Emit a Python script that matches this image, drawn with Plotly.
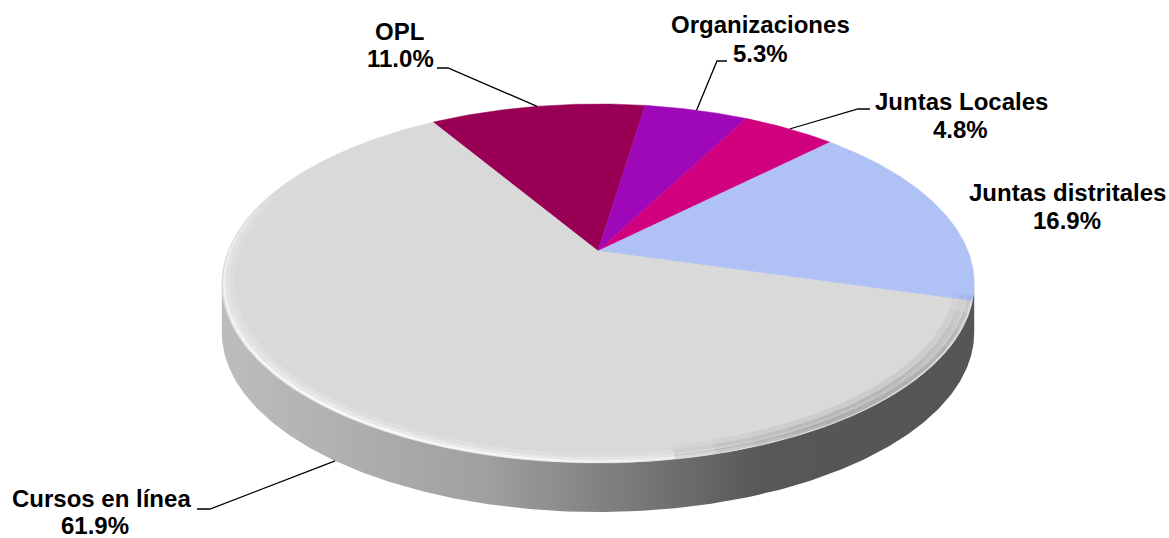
import numpy as np
import plotly.graph_objects as go

# ---- data ----
categories = ["OPL", "Organizaciones", "Juntas Locales", "Juntas distritales", "Cursos en línea"]
values = [11.0, 5.3, 4.8, 16.9, 61.9]
pct_labels = ["11.0%", "5.3%", "4.8%", "16.9%", "61.9%"]
colors = ["#990055", "#9E08B8", "#D0007E", "#B0C1F5", "#D9D9D9"]

# ---- geometry / style (3D perspective pie) ----
W, H = 1169, 538
CX, CY = 598.0, 251.0      # projected pie centre
A = 370.0                  # horizontal radius
G = 0.181                  # perspective factor
DV = -128.2                # vertical scale
DEPTH = 49.0               # thickness of the pie
START = 121.0              # first slice starting angle (deg), clockwise


def proj(theta_deg, r=1.0, drop=0.0):
    t = np.radians(theta_deg)
    u = r * np.cos(t)
    v = r * np.sin(t)
    w = 1 + G * v
    return CX + A * u / w, (DV * v + CY) / w + drop


total = sum(values)
spans = [v / total * 360.0 for v in values]
starts, ends = [], []
a = START
for s in spans:
    starts.append(a)
    ends.append(a - s)
    a -= s

fig = go.Figure()

# side wall (near half)
tl = np.degrees(np.arcsin(G))
ang = np.linspace(180 + tl, 360 - tl, 300)
xt, yt = proj(ang)
xb, yb = proj(ang[::-1], drop=DEPTH)
fig.add_trace(go.Scatter(
    x=np.concatenate([xt, xb]), y=np.concatenate([yt, yb]),
    mode="lines", fill="toself", line=dict(width=0),
    fillgradient=dict(type="horizontal",
                      colorscale=[[0, "#bdbdbd"], [0.35, "#a0a0a0"], [0.72, "#575757"], [1, "#555555"]]),
    hoverinfo="skip", showlegend=False))

# top face slices
for cat, s0, s1, col in zip(categories, starts, ends, colors):
    th = np.linspace(s0, s1, max(10, int(abs(s0 - s1) * 2)))
    xs, ys = proj(th)
    fig.add_trace(go.Scatter(
        x=np.concatenate([[CX], xs, [CX]]), y=np.concatenate([[CY], ys, [CY]]),
        mode="lines", fill="toself", fillcolor=col, line=dict(width=0.5, color=col),
        name=cat, hoverinfo="name", showlegend=False))


def rim_band(a_from, a_to, nseg, layers, rgb, power):
    edges = np.linspace(a_from, a_to, nseg + 1)
    for i in range(nseg):
        a0, a1 = edges[i], edges[i + 1]
        wgt = np.sin(np.pi * (0.5 * (a0 + a1) - a_from) / (a_to - a_from)) ** power
        th = np.linspace(a0, a1, 6)
        for r, wd, op in layers:
            hx, hy = proj(th, r=r)
            fig.add_trace(go.Scatter(x=hx, y=hy, mode="lines",
                                     line=dict(color="rgba(%s,%.3f)" % (rgb, op * wgt), width=wd),
                                     hoverinfo="skip", showlegend=False))


# soft bevel highlight along the near-left rim
rim_band(160, 300, 28, [(0.975, 6, 0.18), (0.986, 4, 0.35), (0.994, 2.5, 0.8)], "255,255,255", 0.6)
# darker shading along the near-right rim
rim_band(280, 346, 12, [(0.96, 8, 0.12), (0.975, 6, 0.22), (0.99, 4, 0.38)], "105,105,105", 0.5)

# labels: (name centre, pct centre, elbow) per category
label_pos = {
    "OPL": ((399, 31), (400, 58), [(437, 68), (448, 68)]),
    "Organizaciones": ((760, 24), (760, 53), [(727, 61), (717, 61)]),
    "Juntas Locales": ((961, 101), (960, 129), [(870, 109), (858, 109)]),
    "Juntas distritales": ((1067, 192), (1067, 220), None),
    "Cursos en línea": ((101, 498), (95, 525), [(197, 509), (210, 509)]),
}
font = dict(family="Liberation Sans, Arial, sans-serif", size=24, color="#000000")
for cat, pct, s0, s1 in zip(categories, pct_labels, starts, ends):
    (nx, ny), (px, py), elbow = label_pos[cat]
    fig.add_annotation(x=nx, y=ny, text="<b>" + cat + "</b>", showarrow=False, font=font,
                       xanchor="center", yanchor="middle")
    fig.add_annotation(x=px, y=py, text="<b>" + pct + "</b>", showarrow=False, font=font,
                       xanchor="center", yanchor="middle")
    if elbow is not None:
        mid = (s0 + s1) / 2.0
        nearside = np.sin(np.radians(mid)) < -G
        ex, ey = proj(mid, drop=DEPTH if nearside else 0.0)
        lx = [p[0] for p in elbow] + [ex]
        ly = [p[1] for p in elbow] + [ey]
        fig.add_trace(go.Scatter(x=lx, y=ly, mode="lines", line=dict(color="#000000", width=1.3),
                                 hoverinfo="skip", showlegend=False))

fig.update_layout(
    width=W, height=H, margin=dict(l=0, r=0, t=0, b=0),
    paper_bgcolor="white", plot_bgcolor="white",
    xaxis=dict(range=[0, W], visible=False, fixedrange=True),
    yaxis=dict(range=[H, 0], visible=False, fixedrange=True),
)
fig.write_html("out.html", config={"displayModeBar": False},
               post_script="document.body.style.margin='0';document.body.style.overflow='hidden';")
